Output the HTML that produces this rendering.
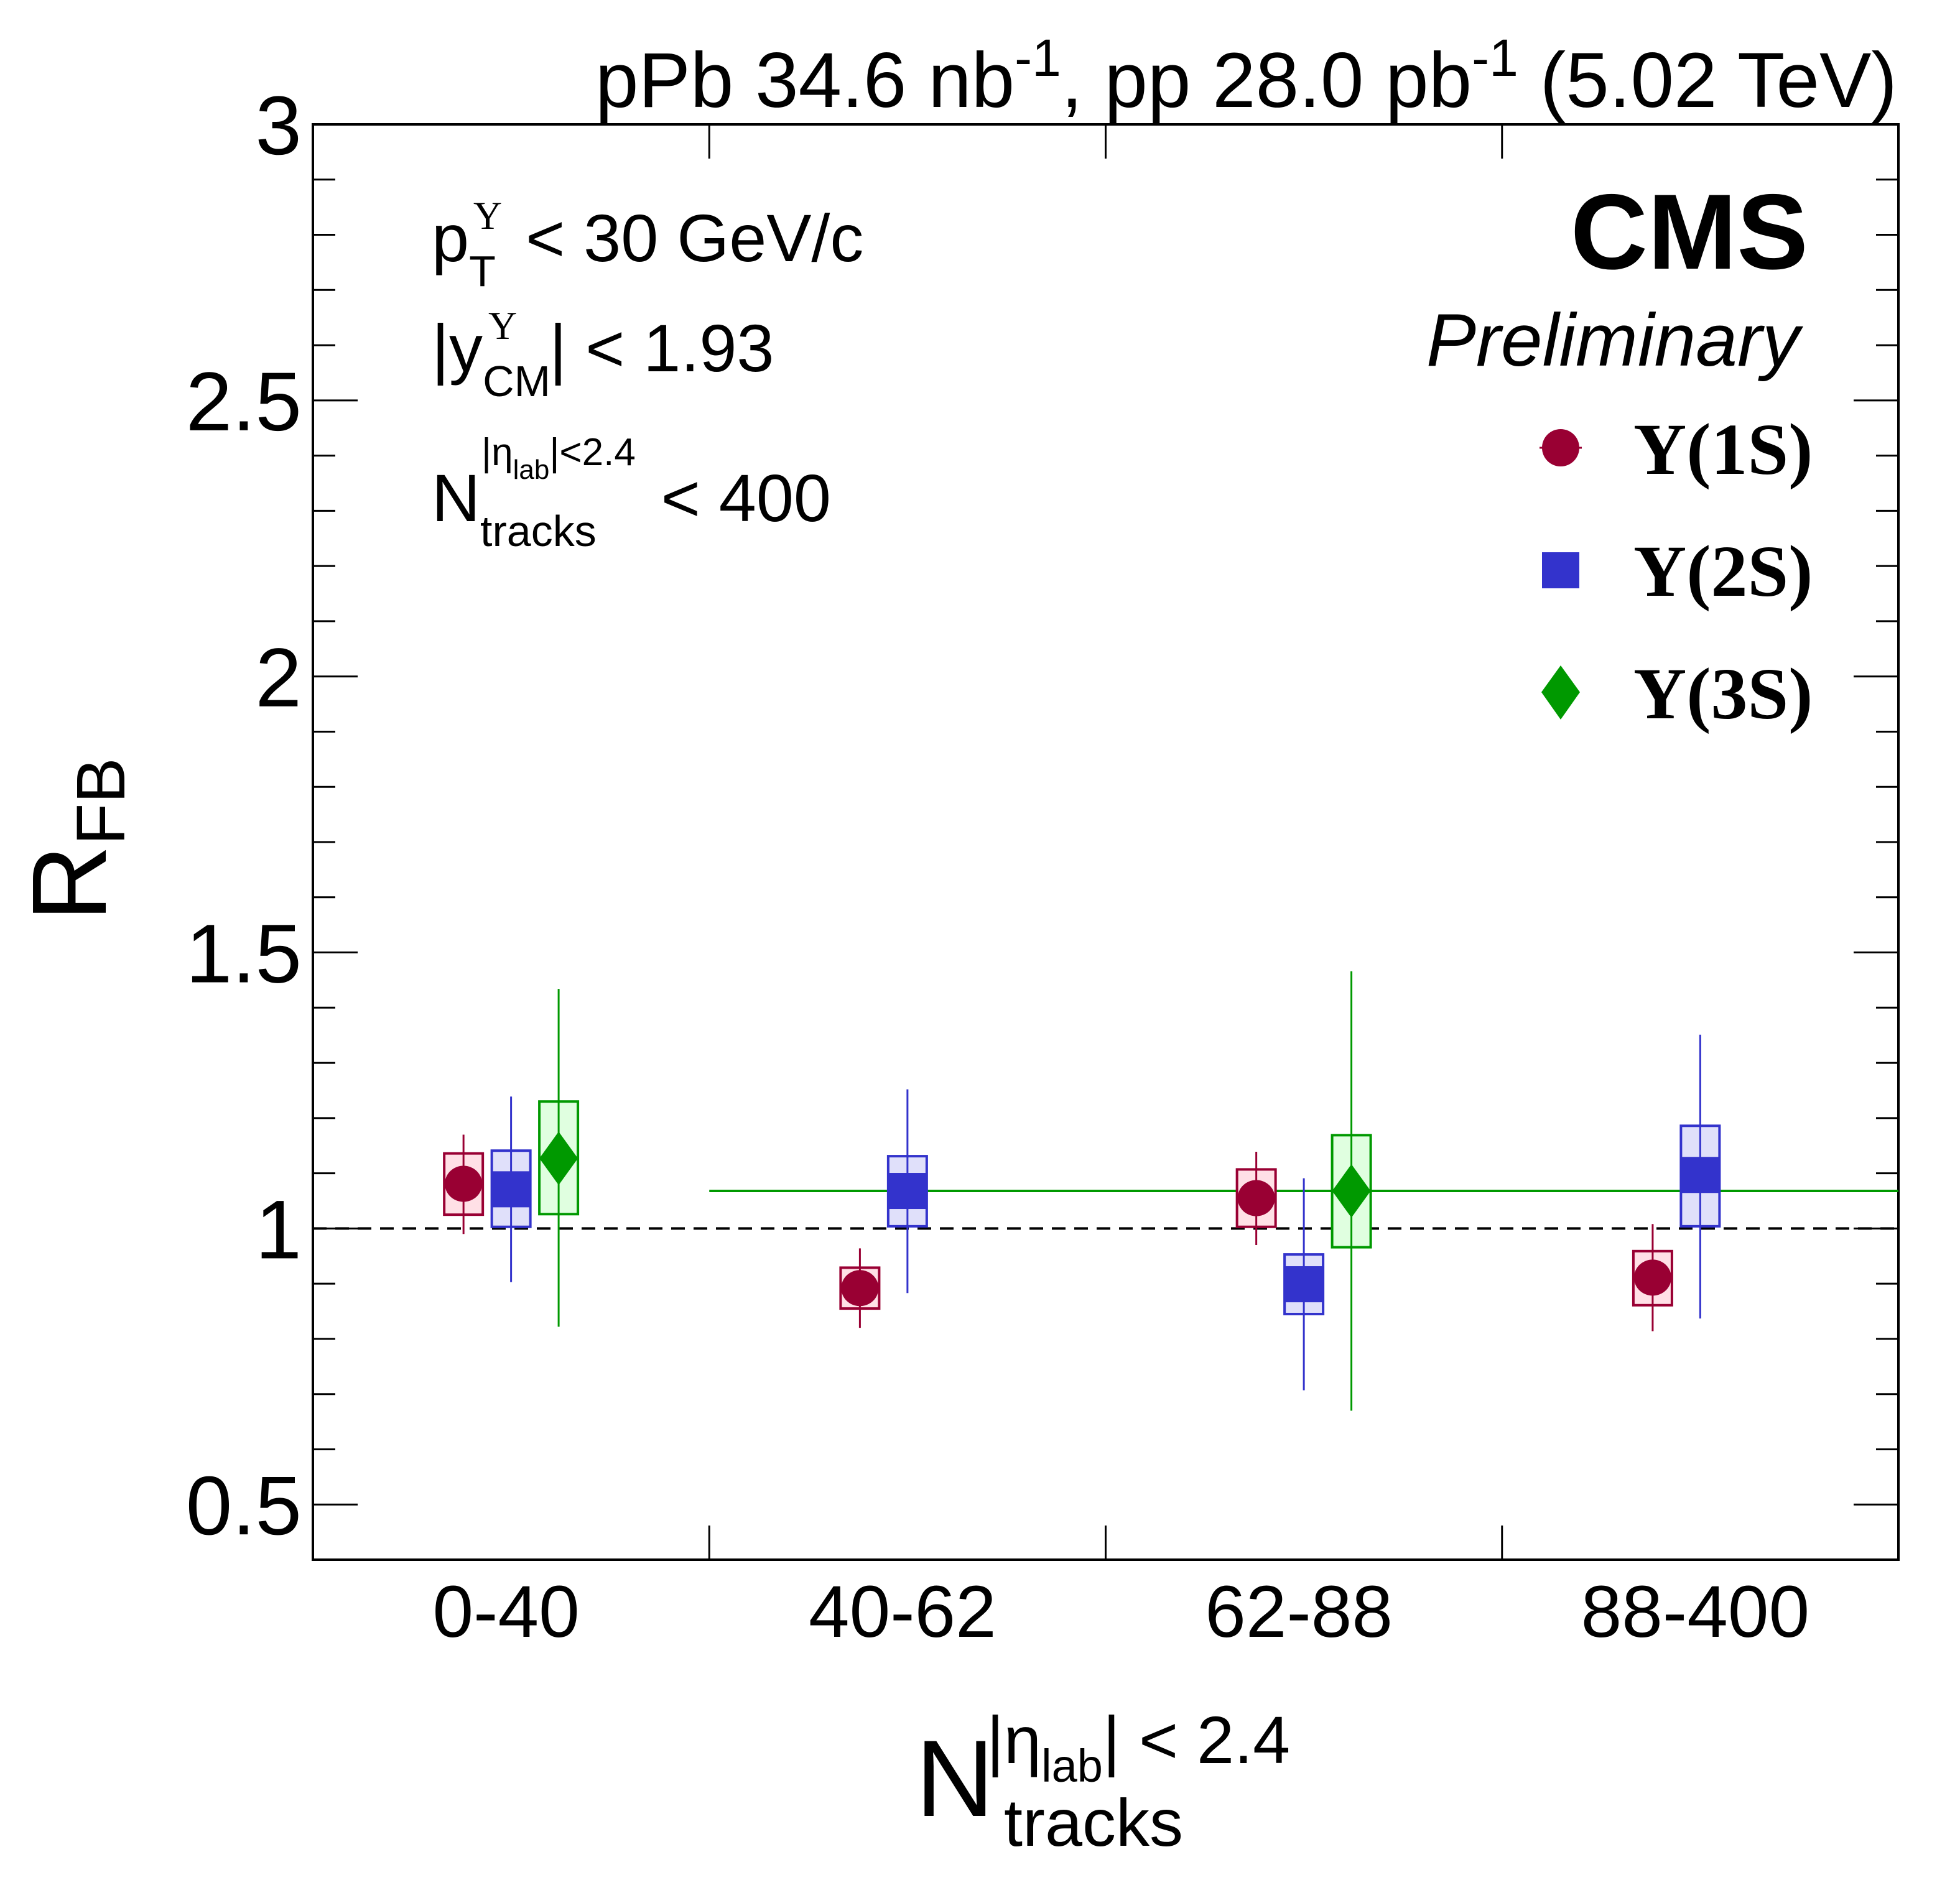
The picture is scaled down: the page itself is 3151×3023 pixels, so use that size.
<!DOCTYPE html>
<html><head><meta charset="utf-8"><style>
html,body{margin:0;padding:0;background:#fff}
svg{display:block}
text{font-family:"Liberation Sans",sans-serif;fill:#000}
.serif{font-family:"Liberation Serif",serif;font-weight:bold}
</style></head><body>
<svg id="chart" width="3151" height="3023" viewBox="0 0 3151 3023" xmlns="http://www.w3.org/2000/svg">
<rect x="0" y="0" width="3151" height="3023" fill="#fff"/>
<g id="axes"></g>
<g id="marks"></g>
<text x="3050" y="172" font-size="125" text-anchor="end">pPb 34.6 nb<tspan font-size="84" dy="-50">-1</tspan><tspan dy="50">, pp 28.0 pb</tspan><tspan font-size="84" dy="-50">-1</tspan><tspan dy="50"> (5.02 TeV)</tspan></text>
<text x="2907" y="432" font-size="172" font-weight="bold" text-anchor="end">CMS</text>
<text x="2893" y="588" font-size="120" font-style="italic" text-anchor="end">Preliminary</text>
<g font-size="108">
<text x="694" y="420">p<tspan font-size="70" dy="40">T</tspan><tspan font-size="64" dx="-36" dy="-92" style="font-family:'Liberation Serif',serif">Υ</tspan><tspan dy="52" dx="8"> &lt; 30 GeV/c</tspan></text>
<text x="694" y="597">|y<tspan font-size="70" dy="40">CM</tspan><tspan font-size="64" dx="-100" dy="-92" style="font-family:'Liberation Serif',serif">Υ</tspan><tspan dy="52" dx="52">| &lt; 1.93</tspan></text>
<text x="694" y="838">N<tspan font-size="70" dy="40">tracks</tspan><tspan dx="74" dy="-40"> &lt; 400</tspan></text>
<text x="774" y="748" font-size="62">|η<tspan font-size="44" dy="22">lab</tspan><tspan dy="-22">|&lt;2.4</tspan></text>
</g>
<g><text transform="translate(170,1350) rotate(-90)" font-size="170" text-anchor="middle">R<tspan font-size="110" dy="30">FB</tspan></text></g>
<g>
<text x="1472" y="2920" font-size="175">N</text>
<text x="1614" y="2968" font-size="108">tracks</text>
<text x="1586" y="2835" font-size="108">|η<tspan font-size="74" dy="30">lab</tspan><tspan dy="-30">| &lt; 2.4</tspan></text>
</g>
<g>
<circle cx="2509" cy="720" r="30" fill="#990033"/>
<line x1="2475" y1="720" x2="2543" y2="720" stroke="#990033" stroke-width="3"/>
<text class="serif" x="2626" y="762" font-size="118">Υ(1S)</text>
<rect x="2479" y="888" width="60" height="58" fill="#3333cc"/>
<text class="serif" x="2626" y="958" font-size="118">Υ(2S)</text>
<path d="M2509 1070 L2540 1113 L2509 1157 L2478 1113 Z" fill="#009900"/>
<text class="serif" x="2626" y="1155" font-size="118">Υ(3S)</text>
</g>
</svg>
<script>
const categories = ["0-40","40-62","62-88","88-400"];
const yTicks = [0.5,1,1.5,2,2.5,3];
const yTickLabels = ["0.5","1","1.5","2","2.5","3"];
const s1Values = [1.081,0.892,1.055,0.911];
const s1StatHi = [1.170,0.964,1.139,1.008];
const s1StatLo = [0.990,0.820,0.970,0.814];
const s1SysHi = [1.136,0.929,1.107,0.959];
const s1SysLo = [1.025,0.855,1.003,0.861];
const s2Values = [1.071,1.068,0.899,1.097];
const s2StatHi = [1.239,1.252,1.091,1.351];
const s2StatLo = [0.903,0.883,0.707,0.837];
const s2SysHi = [1.141,1.131,0.953,1.186];
const s2SysLo = [1.003,1.004,0.845,1.004];
const s3Values = [1.127,null,1.068,null];
const s3StatHi = [1.434,null,1.466,null];
const s3StatLo = [0.822,null,0.670,null];
const s3SysHi = [1.230,null,1.169,null];
const s3SysLo = [1.026,null,0.966,null];
const s3Band = 1.068;

const NS="http://www.w3.org/2000/svg";
const L=503,R=3052,T=200,B=2508,YMIN=0.4,YMAX=3.0;
function yS(v){return B-(v-YMIN)/(YMAX-YMIN)*(B-T);}
function xS(i){return L+i*(R-L)/categories.length;}
function mk(tag,attrs,parent){const e=document.createElementNS(NS,tag);for(const k in attrs)e.setAttribute(k,attrs[k]);parent.appendChild(e);return e;}
const axes=document.getElementById('axes'), marks=document.getElementById('marks');

const frame=mk('rect',{x:L,y:T,width:R-L,height:B-T,fill:'none',stroke:'#000','stroke-width':4},axes);


for(let k=5;k<=30;k++){const v=k/10;const y=yS(v);const major=(k%5===0);const len=major?72:36;
 mk('line',{x1:L,y1:y,x2:L+len,y2:y,stroke:'#000','stroke-width':3},axes);
 mk('line',{x1:R,y1:y,x2:R-len,y2:y,stroke:'#000','stroke-width':3},axes);}
yTicks.forEach((v,i)=>{const t=mk('text',{x:485,y:yS(v)+48,'font-size':134,'text-anchor':'end'},axes);t.textContent=yTickLabels[i];
 
 });
for(let i=1;i<categories.length;i++){const x=xS(i);
 mk('line',{x1:x,y1:B,x2:x,y2:B-55,stroke:'#000','stroke-width':3},axes);
 mk('line',{x1:x,y1:T,x2:x,y2:T+55,stroke:'#000','stroke-width':3},axes);}
categories.forEach((c,i)=>{const t=mk('text',{x:(xS(i)+xS(i+1))/2-8,y:2632,'font-size':118,'text-anchor':'middle'},axes);t.textContent=c;
 
 });
const ref=mk('line',{x1:L,y1:yS(1),x2:R,y2:yS(1),stroke:'#000','stroke-width':4,'stroke-dasharray':'22,14'},axes);



const bandY=yS(s3Band);
const bl=mk('line',{x1:xS(1),y1:bandY,x2:R,y2:bandY,stroke:'#009900','stroke-width':4},marks);



const bw=(R-L)/categories.length;
const series=[
 {name:'1s',vals:s1Values,hi:s1StatHi,lo:s1StatLo,shi:s1SysHi,slo:s1SysLo,col:'#990033',fill:'#ffe0e6',off:-0.12,shape:'circle'},
 {name:'2s',vals:s2Values,hi:s2StatHi,lo:s2StatLo,shi:s2SysHi,slo:s2SysLo,col:'#3333cc',fill:'#e0e0fa',off:0,shape:'square'},
 {name:'3s',vals:s3Values,hi:s3StatHi,lo:s3StatLo,shi:s3SysHi,slo:s3SysLo,col:'#009900',fill:'#e0ffe0',off:0.12,shape:'diamond'}];
series.forEach(s=>{s.vals.forEach((v,i)=>{if(v===null)return;
 const cx=xS(i)+bw*(0.5+s.off);const cy=yS(v);
 const g=mk('g',{},marks);
 
 
 mk('rect',{x:cx-31,y:yS(s.shi[i]),width:62,height:yS(s.slo[i])-yS(s.shi[i]),fill:s.fill,stroke:s.col,'stroke-width':4},g);
 mk('line',{x1:cx,y1:yS(s.hi[i]),x2:cx,y2:yS(s.lo[i]),stroke:s.col,'stroke-width':3},g);
 if(s.shape==='circle')mk('ellipse',{cx:cx,cy:cy,rx:30,ry:29,fill:s.col},g);
 else if(s.shape==='square')mk('rect',{x:cx-31,y:cy-29,width:62,height:58,fill:s.col},g);
 else mk('path',{d:`M${cx} ${cy-43} L${cx+31} ${cy} L${cx} ${cy+43} L${cx-31} ${cy} Z`,fill:s.col},g);
});});
</script>
</body></html>
